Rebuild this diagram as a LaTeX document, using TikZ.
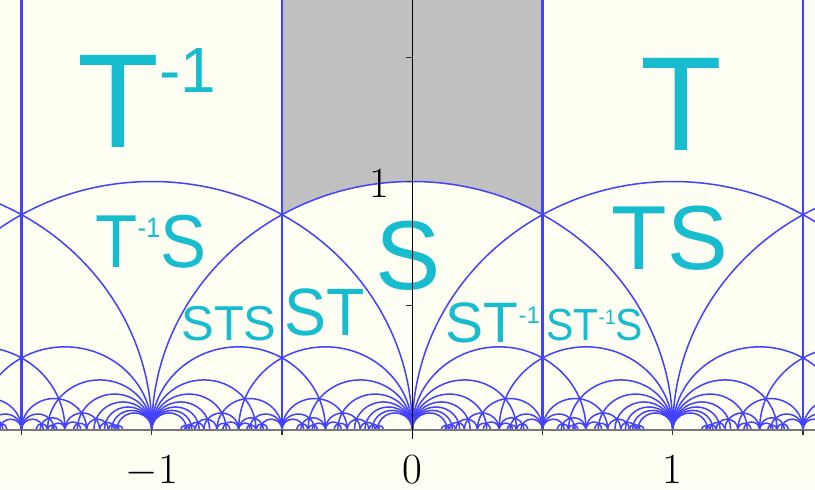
\documentclass[tikz,border=0pt]{standalone}
\usepackage{fontspec}
\newfontfamily\labfont{Liberation Sans}
\definecolor{bgcol}{RGB}{254,254,243}
\definecolor{geoblue}{RGB}{65,65,255}
\definecolor{labcyan}{RGB}{23,189,207}
\definecolor{grayreg}{RGB}{192,192,192}
\definecolor{axgray}{RGB}{120,120,120}
\newcommand\lsz[2]{{\fontsize{#1}{#1}\selectfont #2}}
\begin{document}
\begin{tikzpicture}[x=130.25pt, y=124pt,
  geo/.style={draw=geoblue, line width=0.75pt},
  vgeo/.style={draw=geoblue, line width=1.1pt},
  lab/.style={text=labcyan, inner sep=0pt, anchor=base west, font=\labfont},
  num/.style={inner sep=0pt, anchor=base},
  tickline/.style={draw=black!80, line width=0.6pt}]
\useasboundingbox[fill=bgcol] (-1.5827,-0.2399) rectangle (1.5459,1.7319);
% fundamental domain
\fill[grayreg] (-0.5,1.7319) -- (-0.5,0.866025) arc[start angle=120,end angle=60,radius=1] -- (0.5,1.7319) -- cycle;
% geodesics of the tessellation
\begin{scope}
\clip (-1.5827,0) rectangle (1.5459,1.7319);
\foreach \xv in {-1.5,-0.5,0.5,1.5} \draw[vgeo] (\xv,0) -- (\xv,1.7319);
\foreach \q in {1,...,15}{
  \pgfmathtruncatemacro\smax{16-\q}
  \foreach \s in {1,...,\smax}{
    \pgfmathtruncatemacro\pmin{floor(-1.6*\q-2/\s)-1}
    \pgfmathtruncatemacro\pmax{ceil(1.6*\q)}
    \foreach \p in {\pmin,...,\pmax}{
      \edef\nn{\the\numexpr2+\p*\s\relax}
      \ifnum\numexpr\nn-\q*(\nn/\q)\relax=0
        \edef\rr{\the\numexpr\nn/\q\relax}
        \def\good{1}
        \ifodd\numexpr\p\relax\else\ifodd\numexpr\q\relax\else\def\good{0}\fi\fi
        \ifodd\numexpr\rr\relax\else\ifodd\numexpr\s\relax\else\def\good{0}\fi\fi
        \ifnum\good=1
          \pgfmathsetmacro\rad{1/(\q*\s)}
          \pgfmathsetmacro\cx{\p/\q+\rad}
          \draw[geo] ({\cx+\rad},0) arc[start angle=0,end angle=180,radius=\rad];
        \fi
      \fi
    }
  }
}
\end{scope}
% x axis
\draw[axgray, line width=1pt] (-1.5827,0) -- (1.5459,0);
\foreach \xv in {-1.5,-1,-0.5,0,0.5,1,1.5} \draw[tickline] (\xv,0) -- (\xv,-0.022);
\node[num] (xm1) at (-1,-0.2177) {\lsz{21.5pt}{$-$1}};
\node[num] (x0) at (0,-0.2177) {\lsz{21.5pt}{0}};
\node[num] (x1) at (1,-0.2177) {\lsz{21.5pt}{1}};
% labels
\node[lab] (tinv) at (-1.2871,1.1391) {\lsz{67pt}{T}\raisebox{27.5pt}{\lsz{32pt}{-1}}};
\node[lab] (t) at (0.8741,1.127) {\lsz{67pt}{T}};
\node[lab] (s) at (-0.1417,0.5665) {\lsz{49pt}{S}};
\node[lab] (tinvs) at (-1.218,0.6552) {\scalebox{0.92}[1]{\lsz{37.5pt}{T}\raisebox{15pt}{\lsz{14pt}{-1}}\lsz{37.5pt}{S}}};
\node[lab] (ts) at (0.7628,0.6452) {\lsz{45.5pt}{TS}};
\node[lab] (st) at (-0.4925,0.381) {\scalebox{0.94}[1]{\lsz{33.5pt}{ST}}};
\node[lab] (sts) at (-0.888,0.3569) {\lsz{24.5pt}{STS}};
\node[lab] (stinv) at (0.1267,0.3528) {\lsz{28.5pt}{ST}\raisebox{9.5pt}{\lsz{12pt}{-1}}};
\node[lab] (stinvs) at (0.5132,0.3569) {\scalebox{0.91}[1]{\lsz{22.5pt}{ST}\raisebox{8pt}{\lsz{10.5pt}{-1}}\lsz{22.5pt}{S}}};
% y axis
\draw[black, line width=0.7pt] (0,-0.04) -- (0,1.7319);
\foreach \yv in {0.5,1,1.5} \draw[tickline] (0,\yv) -- (-0.023,\yv);
\node[num] (y1) at (-0.128,0.9375) {\lsz{21.5pt}{1}};
\end{tikzpicture}
\end{document}
